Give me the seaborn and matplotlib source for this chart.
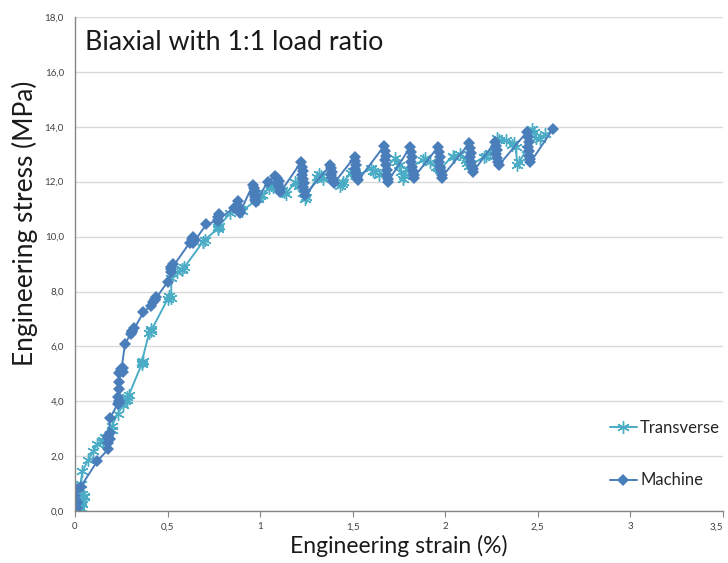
import matplotlib
matplotlib.use("Agg")
import matplotlib.pyplot as plt
import pandas as pd
import seaborn as sns

# ---------------------------------------------------------------------------
# Data (strain in %, stress in MPa)
# ---------------------------------------------------------------------------
machine_strain = [
    0.00, 0.01, 0.00, 0.01, 0.00, 0.01, 0.00, 0.01, 0.03,
    0.12, 0.18, 0.18, 0.19, 0.18, 0.19, 0.18, 0.19,
    0.23, 0.24, 0.23, 0.24, 0.24, 0.24, 0.24, 0.25, 0.26, 0.26, 0.25,
    0.27, 0.30, 0.31, 0.32, 0.31,
    0.37, 0.41, 0.42, 0.43, 0.44, 0.43,
    0.50, 0.52, 0.52, 0.53, 0.52,
    0.62, 0.63, 0.64, 0.65, 0.64,
    0.71, 0.77, 0.77, 0.78, 0.77,
    0.86, 0.88, 0.88, 0.89, 0.89,
    0.96, 0.965, 0.97, 0.965, 0.97, 0.975, 0.98,
    1.04, 1.08, 1.09, 1.10, 1.095, 1.10, 1.105, 1.11,
    1.22, 1.225, 1.23, 1.225, 1.23, 1.235, 1.23, 1.24, 1.24,
    1.38, 1.385, 1.39, 1.385, 1.39, 1.395, 1.40,
    1.51, 1.515, 1.52, 1.515, 1.52, 1.525, 1.53,
    1.67, 1.675, 1.68, 1.675, 1.68, 1.685, 1.685, 1.69, 1.69,
    1.81, 1.815, 1.82, 1.815, 1.82, 1.825, 1.83, 1.83,
    1.96, 1.965, 1.97, 1.965, 1.97, 1.975, 1.98, 1.98,
    2.13, 2.135, 2.14, 2.135, 2.14, 2.145, 2.15, 2.15,
    2.27, 2.275, 2.28, 2.275, 2.28, 2.285, 2.29,
    2.44, 2.445, 2.45, 2.445, 2.45, 2.455, 2.46, 2.46,
    2.58,
]
machine_stress = [
    0.00, 0.10, 0.20, 0.35, 0.45, 0.30, 0.55, 0.80, 0.88,
    1.82, 2.26, 2.50, 2.62, 2.75, 2.85, 2.68, 3.40,
    3.90, 4.02, 4.15, 3.95, 4.45, 4.70, 5.02, 5.18, 5.08, 5.22, 5.12,
    6.08, 6.45, 6.58, 6.66, 6.52,
    7.25, 7.48, 7.62, 7.72, 7.80, 7.68,
    8.35, 8.72, 8.88, 9.00, 8.82,
    9.78, 9.92, 10.00, 9.86, 9.78,
    10.45, 10.58, 10.72, 10.82, 10.60,
    11.05, 11.28, 11.12, 10.98, 10.86,
    11.88, 11.78, 11.66, 11.55, 11.45, 11.35, 11.25,
    12.00, 12.20, 12.12, 12.02, 11.92, 11.82, 11.72, 11.62,
    12.70, 12.55, 12.40, 12.25, 12.10, 11.95, 11.80, 11.65, 11.50,
    12.60, 12.48, 12.36, 12.24, 12.12, 12.02, 11.95,
    12.90, 12.75, 12.60, 12.45, 12.32, 12.18, 12.05,
    13.30, 13.12, 12.95, 12.78, 12.60, 12.42, 12.25, 12.08, 12.00,
    13.25, 13.08, 12.90, 12.72, 12.55, 12.40, 12.25, 12.15,
    13.25, 13.08, 12.90, 12.72, 12.55, 12.40, 12.25, 12.15,
    13.40, 13.22, 13.05, 12.88, 12.72, 12.56, 12.45, 12.35,
    13.45, 13.30, 13.15, 13.00, 12.85, 12.72, 12.60,
    13.80, 13.62, 13.45, 13.28, 13.10, 12.95, 12.82, 12.70,
    13.90,
]

transverse_strain = [
    0.02, 0.03, 0.04, 0.03, 0.05, 0.04, 0.03, 0.05, 0.03, 0.04,
    0.07, 0.10, 0.12, 0.15, 0.16, 0.15, 0.17, 0.20, 0.20, 0.23,
    0.26, 0.27, 0.28, 0.29, 0.28,
    0.36, 0.37, 0.36, 0.40, 0.41, 0.41,
    0.50, 0.51, 0.52, 0.52, 0.55, 0.58, 0.59, 0.58,
    0.69, 0.70, 0.69, 0.77, 0.78, 0.77,
    0.84, 0.89, 0.90, 0.99, 1.00, 0.99, 1.01,
    1.05, 1.06, 1.08, 1.07, 1.12, 1.13, 1.14,
    1.19, 1.20, 1.21, 1.23, 1.24, 1.25,
    1.31, 1.32, 1.33, 1.34,
    1.43, 1.44, 1.45, 1.49, 1.50, 1.51, 1.52,
    1.60, 1.61, 1.62, 1.64,
    1.73, 1.74, 1.75, 1.76, 1.77, 1.78, 1.80,
    1.88, 1.89, 1.92, 1.95, 1.96, 1.97,
    2.04, 2.05, 2.08, 2.11, 2.12, 2.13,
    2.21, 2.22, 2.24, 2.28, 2.29,
    2.33, 2.36, 2.37, 2.38, 2.39, 2.40,
    2.44, 2.47, 2.48, 2.49, 2.51, 2.54,
]
transverse_stress = [
    0.00, 0.12, 0.25, 0.40, 0.50, 0.62, 0.35, 0.55, 1.00, 1.45,
    1.85, 2.20, 2.45, 2.58, 2.70, 2.52, 2.65, 2.95, 3.10, 3.55,
    3.85, 4.02, 4.15, 4.22, 4.05,
    5.35, 5.48, 5.42, 6.48, 6.62, 6.55,
    7.72, 7.85, 7.78, 8.50, 8.70, 8.82, 8.90, 8.78,
    9.80, 9.88, 9.82, 10.28, 10.40, 10.35,
    10.85, 11.00, 10.92, 11.38, 11.46, 11.42, 11.50,
    11.78, 11.88, 11.92, 11.80, 11.70, 11.62, 11.55,
    12.00, 11.95, 11.85, 11.60, 11.38, 11.45,
    12.18, 12.28, 12.22, 12.10,
    11.85, 11.92, 12.00, 12.30, 12.38, 12.32, 12.20,
    12.48, 12.40, 12.35, 12.25,
    12.85, 12.70, 12.60, 12.35, 12.10, 12.22, 12.45,
    12.80, 12.85, 12.70, 12.55, 12.48, 12.42,
    12.95, 12.90, 13.02, 12.80, 12.68, 12.58,
    12.90, 12.95, 13.05, 13.58, 13.52,
    13.50, 13.35, 13.42, 13.25, 12.62, 12.70,
    13.20, 13.90, 13.80, 13.60, 13.55, 13.75,
]

x_ticks = [0, 0.5, 1, 1.5, 2, 2.5, 3, 3.5]
x_tick_labels = ["0", "0,5", "1", "1,5", "2", "2,5", "3", "3,5"]
y_ticks = [0, 2, 4, 6, 8, 10, 12, 14, 16, 18]
y_tick_labels = ["0,0", "2,0", "4,0", "6,0", "8,0", "10,0", "12,0", "14,0", "16,0", "18,0"]

MACHINE_COLOR = "#4A7EBB"
TRANSVERSE_COLOR = "#4BACC6"

transverse = pd.DataFrame({"strain": transverse_strain, "stress": transverse_stress})
machine = pd.DataFrame({"strain": machine_strain, "stress": machine_stress})

# ---------------------------------------------------------------------------
# Plot
# ---------------------------------------------------------------------------
sns.set_style("white")
plt.rcParams["font.family"] = ["Lato", "DejaVu Sans"]

fig = plt.figure(figsize=(7.28, 5.63), dpi=100)
ax = fig.add_axes([0.103, 0.092, 0.890, 0.878])

sns.lineplot(data=transverse, x="strain", y="stress", ax=ax, sort=False,
             estimator=None, color=TRANSVERSE_COLOR, linewidth=1.4,
             marker=(6, 2, 0), markersize=9, markeredgewidth=1.0,
             markeredgecolor=TRANSVERSE_COLOR, label="Transverse")
sns.lineplot(data=machine, x="strain", y="stress", ax=ax, sort=False,
             estimator=None, color=MACHINE_COLOR, linewidth=1.4,
             marker="D", markersize=5.8, markeredgewidth=0,
             label="Machine")

ax.set_xlim(0, 3.5)
ax.set_ylim(0, 18)
ax.set_xticks(x_ticks)
ax.set_xticklabels(x_tick_labels)
ax.set_yticks(y_ticks)
ax.set_yticklabels(y_tick_labels)
ax.tick_params(axis="x", length=4, width=0.8, color="#868686", pad=4,
               labelsize=7, labelcolor="#404040", direction="out", bottom=True)
ax.tick_params(axis="y", length=0, pad=8, labelsize=7, labelcolor="#404040")
# last x label sits at the figure edge; nudge it inward so it stays whole
ax.get_xticklabels()[-1].set_horizontalalignment("right")

ax.grid(axis="y", color="#D9D9D9", linewidth=1)
ax.set_axisbelow(True)
for side in ("top", "right"):
    ax.spines[side].set_visible(False)
for side in ("left", "bottom"):
    ax.spines[side].set_color("#868686")
    ax.spines[side].set_linewidth(1)

ax.set_xlabel("Engineering strain (%)", fontsize=16.5, color="#1A1A1A", labelpad=2.5)
ax.set_ylabel("Engineering stress (MPa)", fontsize=19, color="#1A1A1A")
ax.yaxis.set_label_coords(-0.057, 0.583)

ax.text(0.015, 0.949, "Biaxial with 1:1 load ratio", transform=ax.transAxes,
        fontsize=19.3, color="#1A1A1A", ha="left", va="center")

ax.legend(loc="lower left", bbox_to_anchor=(0.826, 0.046), frameon=False,
          fontsize=12, labelspacing=2.2, handlelength=1.6, handletextpad=0.2,
          borderaxespad=0, borderpad=0)

fig.savefig("out.png", dpi=100)
plt.close(fig)
